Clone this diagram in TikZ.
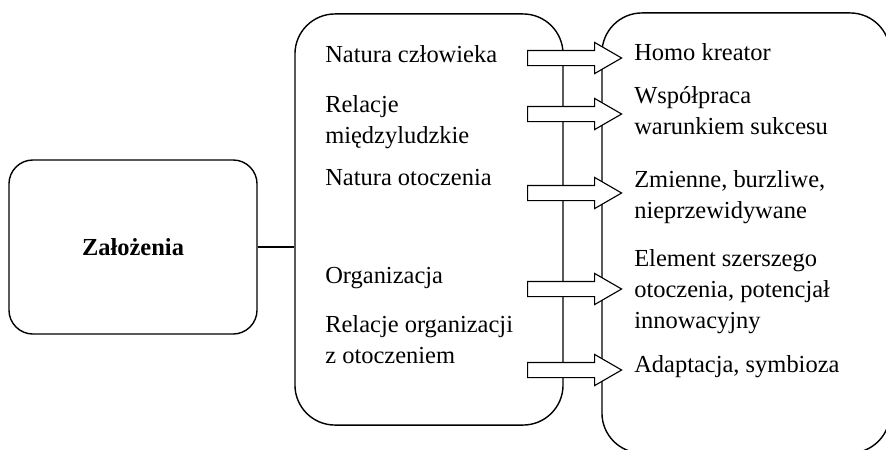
\documentclass[tikz,border=0pt]{standalone}
\usepackage{fontspec}
\setmainfont{Liberation Serif}
\usetikzlibrary{shapes.arrows}

\begin{document}
\begin{tikzpicture}[x=0.025cm, y=-0.025cm,
	every node/.style={font=\fontsize{17.4}{22}\selectfont},
	box/.style={draw, line width=1pt, rounded corners=#1, inner sep=0pt},
	item/.style={anchor=base west, align=left, inner sep=0pt},
	pushar/.style={single arrow, draw, fill=white, line width=0.8pt, anchor=tail,
		minimum height=2.35cm, inner xsep=0pt, inner ysep=0.175cm,
		single arrow head extend=0.2cm, single arrow tip angle=60}]
	\useasboundingbox (0,0) rectangle (886,449);
	\clip (0,0) rectangle (886,449);
	% three boxes
	\node[box=0.6cm, minimum width=6.2cm, minimum height=4.35cm] (zal) at (133,247) {\textbf{Założenia}};
	\node[box=1cm, minimum width=6.7cm, minimum height=10.275cm] (mid) at (429,219.5) {};
	\node[box=1cm, minimum width=7.2cm, minimum height=11cm] (res) at (746,233) {};
	% link from the left box
	\draw[line width=1pt] (zal.east) -- (zal.east -| mid.west);
	% assumptions (base = last line)
	\node[item] (nat) at (325,62) {Natura człowieka};
	\node[item] (rel) at (325,143) {Relacje\\międzyludzkie};
	\node[item] (oto) at (325,185) {Natura otoczenia};
	\node[item] (org) at (325,283) {Organizacja};
	\node[item] (rlo) at (325,363) {Relacje organizacji\\z otoczeniem};
	% what they become
	\node[item] (homo) at (634,60) {Homo kreator};
	\node[item] (wsp) at (634,134) {Współpraca\\warunkiem sukcesu};
	\node[item] (zmi) at (634,218) {Zmienne, burzliwe,\\nieprzewidywane};
	\node[item] (ele) at (634,328) {Element szerszego\\otoczenia, potencjał\\innowacyjny};
	\node[item] (ada) at (634,372) {Adaptacja, symbioza};
	% block arrows over the gap
	\node[pushar] (ar1) at (527,58) {};
	\node[pushar] (ar2) at (527,114) {};
	\node[pushar] (ar3) at (527,193) {};
	\node[pushar] (ar4) at (527,289) {};
	\node[pushar] (ar5) at (527,370) {};
\end{tikzpicture}
\end{document}
